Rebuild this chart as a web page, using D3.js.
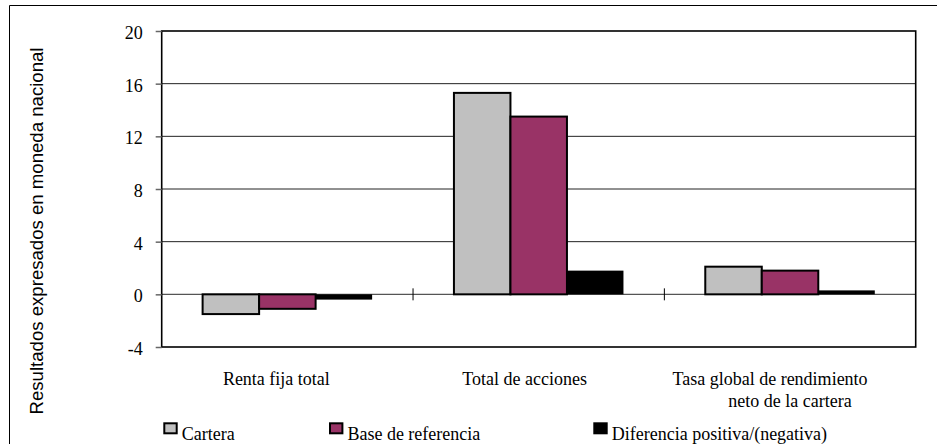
<!DOCTYPE html>
<html>
<head>
<meta charset="utf-8">
<script src="https://cdn.jsdelivr.net/npm/d3@7"></script>
<style>
  html, body { margin: 0; padding: 0; background: #fff; }
  svg { display: block; }
</style>
</head>
<body>
<svg id="chart" width="937" height="444"></svg>
<script>
// Categories (x-axis groups), the three series and the y tick values
const categories = ["Renta fija total", "Total de acciones", "Tasa global de rendimiento\nneto de la cartera"];
const seriesNames = ["Cartera", "Base de referencia", "Diferencia positiva/(negativa)"];
const cartera = [-1.5, 15.3, 2.1];
const baseReferencia = [-1.1, 13.5, 1.8];
const diferencia = [-0.4, 1.8, 0.3];
const yTicks = [-4, 0, 4, 8, 12, 16, 20];
const yTitle = "Resultados expresados en moneda nacional";

const seriesValues = [cartera, baseReferencia, diferencia];
const colors = ["#c0c0c0", "#993366", "#000000"];

const svg = d3.select("#chart");
const W = 937, H = 444;
const plot = { left: 161.7, top: 31, right: 915.7, bottom: 347 };

svg.append("rect").attr("width", W).attr("height", H).attr("fill", "#fff");

// outer chart frame (left and top edges inside the window)
svg.append("path")
  .attr("d", `M9.5,${H + 2} V5.5 H${W + 2}`)
  .attr("fill", "none").attr("stroke", "#000").attr("stroke-width", 1);

const x0 = d3.scaleBand().domain(categories).range([plot.left, plot.right]).paddingInner(0).paddingOuter(0);
const x1 = d3.scaleBand().domain(seriesNames).range([0, x0.bandwidth()]).paddingInner(0).paddingOuter(0.724);
const y = d3.scaleLinear().domain([-4, 20]).range([plot.bottom, plot.top]);

// horizontal gridlines
svg.append("g").selectAll("line")
  .data(yTicks.filter(v => v !== -4 && v !== 20 && v !== 0))
  .join("line")
  .attr("x1", plot.left).attr("x2", plot.right)
  .attr("y1", d => y(d)).attr("y2", d => y(d))
  .attr("stroke", "#222").attr("stroke-width", 1);

// zero line
svg.append("line")
  .attr("x1", plot.left).attr("x2", plot.right)
  .attr("y1", y(0)).attr("y2", y(0))
  .attr("stroke", "#555").attr("stroke-width", 1.2);

// bars
const rows = categories.map((c, i) => seriesNames.map((s, j) => ({ cat: c, ser: s, j, v: seriesValues[j][i] })));
svg.append("g").selectAll("g")
  .data(rows).join("g")
  .attr("transform", d => `translate(${x0(d[0].cat)},0)`)
  .selectAll("rect")
  .data(d => d).join("rect")
  .attr("x", d => x1(d.ser))
  .attr("width", x1.bandwidth())
  .attr("y", d => y(Math.max(0, d.v)))
  .attr("height", d => Math.abs(y(d.v) - y(0)))
  .attr("fill", d => colors[d.j])
  .attr("stroke", "#000")
  .attr("stroke-width", d => d.j === 2 ? 0 : 2);

// category tick marks crossing the zero line
svg.append("g").selectAll("line")
  .data(categories.slice(1))
  .join("line")
  .attr("x1", d => x0(d)).attr("x2", d => x0(d))
  .attr("y1", y(0) - 6).attr("y2", y(0) + 6)
  .attr("stroke", "#000").attr("stroke-width", 1);

// plot area frame
svg.append("rect")
  .attr("x", plot.left).attr("y", plot.top)
  .attr("width", plot.right - plot.left).attr("height", plot.bottom - plot.top)
  .attr("fill", "none").attr("stroke", "#000").attr("stroke-width", 1.6);

// y axis (plain hyphen for negative numbers)
const yAxis = d3.axisLeft(y).tickValues(yTicks).tickSize(6).tickPadding(13).tickFormat(d => String(d));
const ga = svg.append("g").attr("transform", `translate(${plot.left},0)`).call(yAxis);
ga.select(".domain").remove();
ga.selectAll(".tick line").attr("stroke", "#666").attr("stroke-width", 1.5);
ga.selectAll(".tick text")
  .attr("font-family", "'Liberation Serif', 'Times New Roman', serif")
  .attr("font-size", 18).attr("fill", "#000")
  .attr("dy", "0.42em");

// y axis title
svg.append("text")
  .attr("transform", `translate(43,231) rotate(-90)`)
  .attr("text-anchor", "middle")
  .attr("font-family", "'Liberation Sans', Arial, sans-serif")
  .attr("font-size", 18.6).attr("fill", "#000")
  .text(yTitle);

// category labels
const labelShift = [-11, -14, -20];
const catLabels = svg.append("g")
  .attr("font-family", "'Liberation Serif', 'Times New Roman', serif")
  .attr("font-size", 18).attr("fill", "#000").attr("text-anchor", "middle");
categories.forEach((c, i) => {
  const lines = c.split("\n");
  lines.forEach((ln, k) => {
    catLabels.append("text")
      .attr("x", x0(c) + x0.bandwidth() / 2 + (k === 0 ? labelShift[i] : 0))
      .attr("y", 385 + k * 21.5)
      .text(ln);
  });
});

// legend
const legendX = [163.3, 329, 593.3];
const lg = svg.append("g")
  .attr("font-family", "'Liberation Serif', 'Times New Roman', serif")
  .attr("font-size", 18).attr("fill", "#000");
seriesNames.forEach((s, j) => {
  lg.append("rect")
    .attr("x", legendX[j] + 1).attr("y", 423.3)
    .attr("width", 12.4).attr("height", 10)
    .attr("fill", colors[j]).attr("stroke", "#000").attr("stroke-width", 2);
  lg.append("text")
    .attr("x", legendX[j] + 18.4).attr("y", 440)
    .text(s);
});
</script>
</body>
</html>
